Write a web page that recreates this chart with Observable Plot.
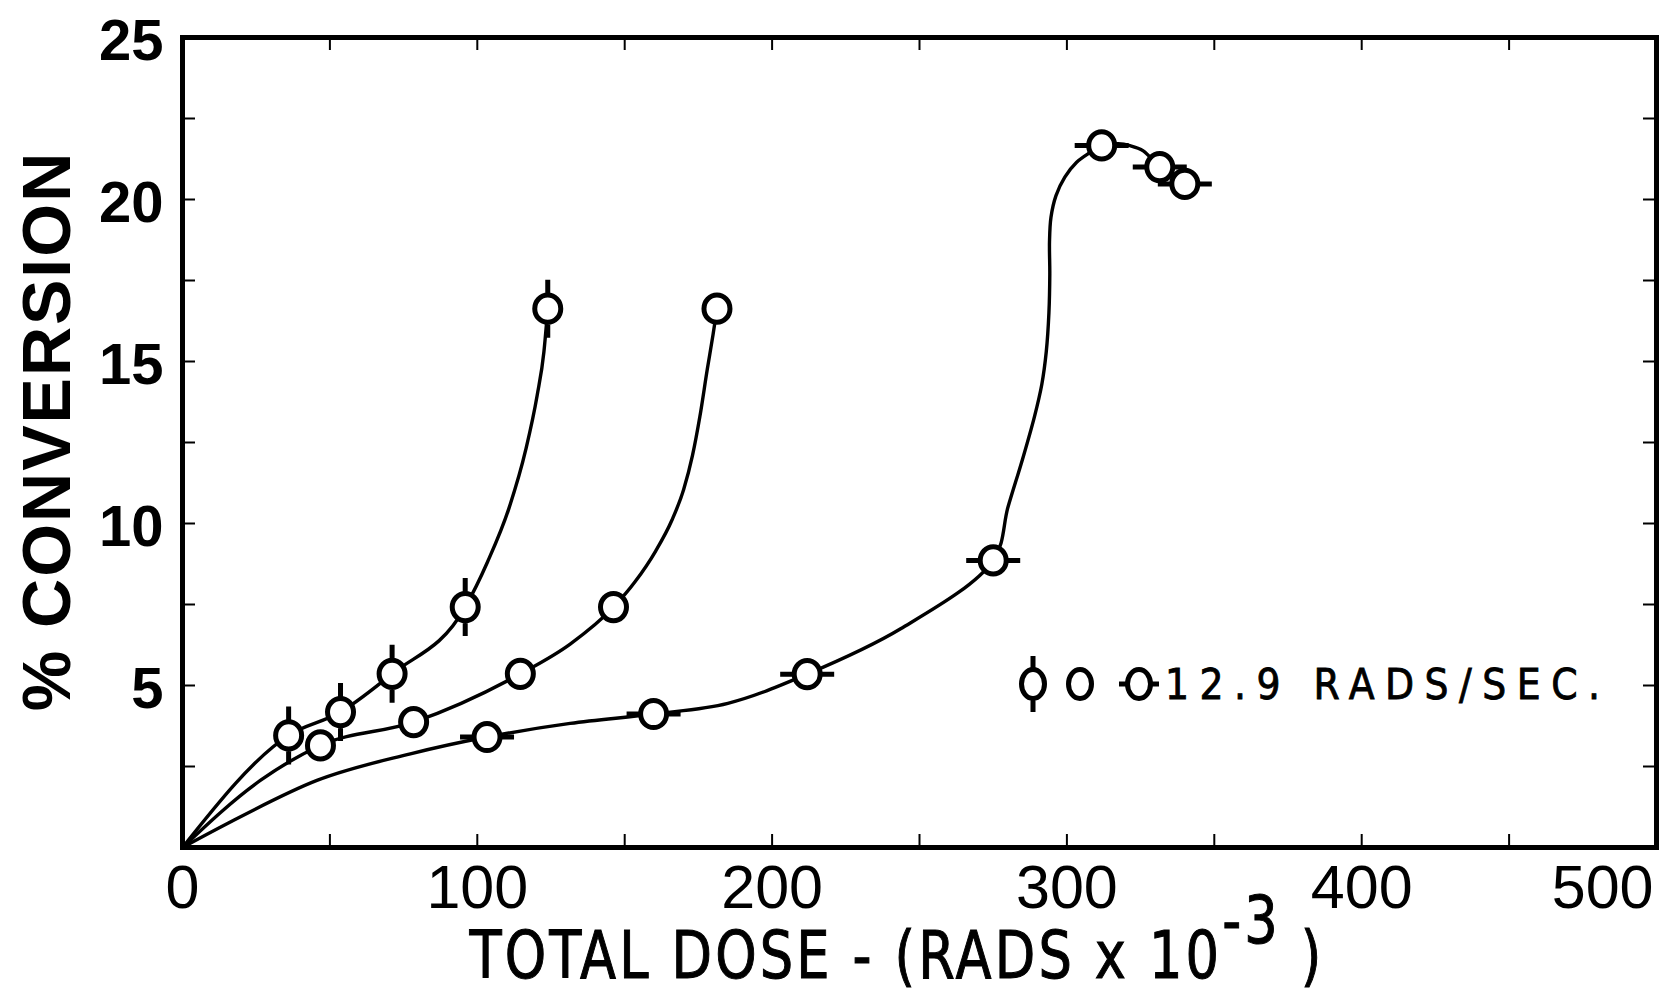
<!DOCTYPE html>
<html><head><meta charset="utf-8">
<script src="https://cdn.jsdelivr.net/npm/d3@7"></script>
<script src="https://cdn.jsdelivr.net/npm/@observablehq/plot@0.6"></script>
<style>html,body{margin:0;padding:0;background:#fff}</style>
</head><body><div id="chart"></div>
<script>
// ---- tick values / labels ----
const xTickLabels = [0, 100, 200, 300, 400, 500];
const yTickLabels = [5, 10, 15, 20, 25];
const xTickMarks = [50, 100, 150, 200, 250, 300, 350, 400, 450];
const yTickMarks = [2.5, 5, 7.5, 10, 12.5, 15, 17.5, 20, 22.5];

// ---- measured points (dose x 10^-3 rads, % conversion) ----
const s1x = [36.0, 53.6, 71.1, 95.9, 123.9];
const s1y = [3.46, 4.18, 5.36, 7.42, 16.63];
const s2x = [46.8, 78.4, 114.6, 146.2, 181.3];
const s2y = [3.15, 3.87, 5.36, 7.42, 16.63];
const s3x = [103.3, 159.8, 211.9, 275.0, 311.8, 331.5, 340.0];
const s3y = [3.41, 4.12, 5.35, 8.86, 21.67, 21.0, 20.48];

// ---- hand-drawn curves ----
const c1x = [0, 36.0, 53.6, 71.1, 95.9, 103.5, 110.7, 116.5, 120.3, 122.6, 123.9];
const c1y = [0, 3.46, 4.18, 5.36, 7.42, 8.82, 10.46, 12.3, 13.95, 15.3, 16.63];
const c2x = [0, 26.4, 46.8, 78.4, 114.6, 131.5, 146.2, 153.5, 160.5, 166.0, 170.0, 173.0, 175.5, 178.0, 180.0, 181.3];
const c2y = [0, 2.07, 3.15, 3.87, 5.36, 6.28, 7.42, 8.2, 9.15, 10.1, 11.05, 12.1, 13.3, 14.75, 15.85, 16.63];
const c3x = [0, 45.6, 77.3, 103.3, 131.5, 159.8, 185.0, 211.9, 243.6, 275.0, 280.0, 285.0, 289.0, 291.5, 293.0, 293.9, 294.2, 294.1, 294.6, 296.3, 299.3, 303.3, 307.8, 311.8, 317.4, 321.4, 325.9, 331.5, 340.0];
const c3y = [0, 2.07, 2.89, 3.41, 3.83, 4.12, 4.45, 5.35, 6.75, 8.86, 10.5, 12.0, 13.3, 14.3, 15.3, 16.5, 17.7, 18.7, 19.45, 20.12, 20.69, 21.15, 21.45, 21.67, 21.72, 21.66, 21.5, 21.0, 20.48];

const legendLabel = "12.9 RADS/SEC.";

// ---- symbols ----
function ellipse(ctx, rx, ry) {
  const k = 0.5523;
  ctx.moveTo(rx, 0);
  ctx.bezierCurveTo(rx, ry * k, rx * k, ry, 0, ry);
  ctx.bezierCurveTo(-rx * k, ry, -rx, ry * k, -rx, 0);
  ctx.bezierCurveTo(-rx, -ry * k, -rx * k, -ry, 0, -ry);
  ctx.bezierCurveTo(rx * k, -ry, rx, -ry * k, rx, 0);
  ctx.closePath();
}
function makeSym(rx, ry, len, dir) {
  return {
    draw(ctx) {
      ellipse(ctx, rx, ry);
      if (dir === "v") {
        ctx.moveTo(0, -ry); ctx.lineTo(0, -len);
        ctx.moveTo(0, ry); ctx.lineTo(0, len);
      } else if (dir === "h") {
        ctx.moveTo(-rx, 0); ctx.lineTo(-len, 0);
        ctx.moveTo(rx, 0); ctx.lineTo(len, 0);
      }
    }
  };
}
const symV = makeSym(13, 13.6, 29, "v");
const symO = makeSym(13, 13.6, 0, "o");
const symH = makeSym(13, 13.6, 27, "h");

const W = 1661, H = 998, mL = 182, mR = 5, mT = 37, mB = 151;
const plotH = H - mT - mB, plotW = W - mL - mR;
const TL = 13;
const narrow = "'Liberation Sans Narrow', 'DejaVu Sans Condensed', 'Liberation Sans', sans-serif";
const sans = "'Liberation Sans', Arial, sans-serif";

const lineOpts = {stroke: "black", strokeWidth: 3.4};
const dotOpts = {fill: "white", stroke: "black", strokeWidth: 5, r: 14};

const chart = Plot.plot({
  width: W, height: H,
  marginLeft: mL, marginRight: mR, marginTop: mT, marginBottom: mB,
  x: {domain: [0, 500]},
  y: {domain: [0, 25]},
  style: {background: "white", color: "black"},
  marks: [
    // inward ticks on all four sides
    Plot.tickX(xTickMarks, {x: d => d, insetTop: plotH - TL, strokeWidth: 2}),
    Plot.tickX(xTickMarks, {x: d => d, insetBottom: plotH - TL, strokeWidth: 2}),
    Plot.tickY(yTickMarks, {y: d => d, insetRight: plotW - TL, strokeWidth: 2}),
    Plot.tickY(yTickMarks, {y: d => d, insetLeft: plotW - TL, strokeWidth: 2}),
    // tick labels
    Plot.axisX(xTickLabels.slice(0, -1), {anchor: "bottom", tickSize: 0, tickPadding: 17, label: null,
      fontSize: 61, fontFamily: sans, stroke: "black", strokeWidth: 1.2}),
    Plot.axisX(xTickLabels.slice(-1), {anchor: "bottom", tickSize: 0, tickPadding: 17, label: null,
      fontSize: 61, fontFamily: sans, stroke: "black", strokeWidth: 1.2, textAnchor: "end", dx: -3}),
    Plot.axisY(yTickLabels, {anchor: "left", tickSize: 0, tickPadding: 19, label: null,
      fontSize: 58, fontWeight: "bold", fontFamily: sans, dy: 4}),
    // curves
    Plot.line(c1x, {x: c1x, y: c1y, curve: "monotone-x", ...lineOpts}),
    Plot.line(c2x, {x: c2x, y: c2y, curve: "monotone-x", ...lineOpts}),
    Plot.line(c3x, {x: c3x, y: c3y, curve: "catmull-rom", ...lineOpts}),
    // points
    Plot.dot(s1x, {x: s1x, y: s1y, symbol: symV, ...dotOpts}),
    Plot.dot(s2x, {x: s2x, y: s2y, symbol: symO, ...dotOpts}),
    Plot.dot(s3x, {x: s3x, y: s3y, symbol: symH, ...dotOpts}),
    Plot.frame({stroke: "black", strokeWidth: 5})
  ]
});
document.getElementById("chart").appendChild(chart);

const svg = d3.select(chart);

// y title
svg.append("text")
  .attr("transform", "translate(70,431) rotate(-90)")
  .attr("text-anchor", "middle")
  .attr("font-family", sans).attr("font-weight", "bold").attr("font-size", 68)
  .attr("letter-spacing", 2)
  .attr("fill", "black")
  .text("% CONVERSION");

// x title
const xt = svg.append("g").attr("transform", "translate(897,978) scale(0.9,1)")
  .append("text")
  .attr("x", 0).attr("y", 0)
  .attr("text-anchor", "middle")
  .attr("font-family", narrow).attr("font-size", 65)
  .attr("letter-spacing", 3.5)
  .attr("stroke", "black").attr("stroke-width", 1)
  .attr("fill", "black");
xt.append("tspan").text("TOTAL DOSE - (RADS x 10");
xt.append("tspan").attr("dy", -35).text("-3");
xt.append("tspan").attr("dy", 35).text(" )");

// legend
const lg = svg.append("g").attr("fill", "white").attr("stroke", "black").attr("stroke-width", 5);
function symPath(s) { const p = d3.path(); s.draw(p); return p.toString(); }
const lsV = makeSym(11.5, 14.5, 28, "v"), lsO = makeSym(11.5, 14.5, 0, "o"), lsH = makeSym(11.5, 14.5, 20, "h");
[[lsV, 1033], [lsO, 1080], [lsH, 1139]].forEach(([s, cx]) => {
  lg.append("path").attr("d", symPath(s)).attr("transform", `translate(${cx},684)`);
});
svg.append("text")
  .attr("x", 1165).attr("y", 699)
  .attr("text-anchor", "start")
  .attr("font-family", narrow).attr("font-size", 42)
  .attr("letter-spacing", 10.5)
  .attr("stroke", "black").attr("stroke-width", 0.8)
  .attr("fill", "black")
  .text(legendLabel);
</script>
</body></html>
